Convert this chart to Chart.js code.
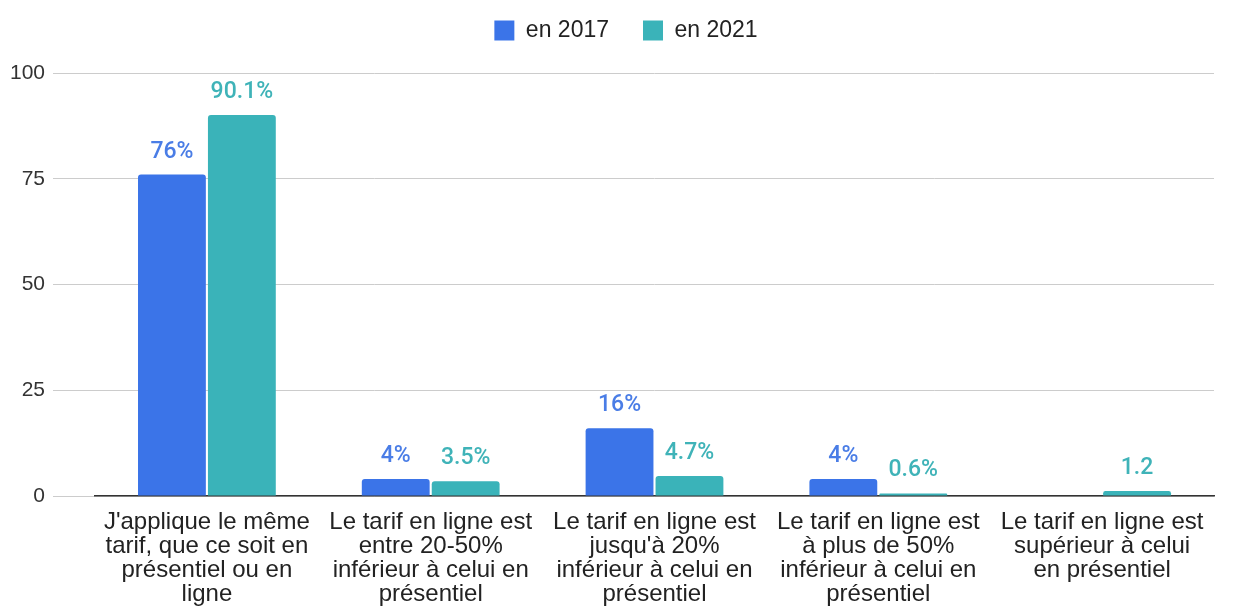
<!DOCTYPE html>
<html>
<head>
<meta charset="utf-8">
<script src="https://cdn.jsdelivr.net/npm/chart.js@4"></script>
<style>
  html, body { margin: 0; padding: 0; background: #fff; }
  #wrap { width: 1244px; height: 606px; }
</style>
</head>
<body>
<div id="wrap"><canvas id="chart" width="1244" height="606"></canvas></div>
<script>
// categories (split on lines as in the picture)
const categories = [
  ["J'applique le même", "tarif, que ce soit en", "présentiel ou en", "ligne"],
  ["Le tarif en ligne est", "entre 20-50%", "inférieur à celui en", "présentiel"],
  ["Le tarif en ligne est", "jusqu'à 20%", "inférieur à celui en", "présentiel"],
  ["Le tarif en ligne est", "à plus de 50%", "inférieur à celui en", "présentiel"],
  ["Le tarif en ligne est", "supérieur à celui", "en présentiel"]
];
const seriesNames = ['en 2017', 'en 2021'];
const values2017 = [76, 4, 16, 4, null];
const values2021 = [90.1, 3.5, 4.7, 0.6, 1.2];
const labels2017 = ['76%', '4%', '16%', '4%', ''];
const labels2021 = ['90.1%', '3.5%', '4.7%', '0.6%', '1.2'];
const yTicks = [0, 25, 50, 75, 100];

const BLUE = '#3b74e8';
const TEAL = '#3ab3b9';
const FONT = '"Liberation Sans", Arial, sans-serif';

// dessine les valeurs au-dessus des barres
const valueLabels = {
  id: 'valueLabels',
  afterDatasetsDraw(chart) {
    const ctx = chart.ctx;
    const texts = [labels2017, labels2021];
    const colors = ['#4a7de6', '#3fb3b8'];
    ctx.save();
    ctx.font = '500 23px Roboto, "Liberation Sans", sans-serif';
    ctx.textAlign = 'center';
    ctx.textBaseline = 'alphabetic';
    chart.data.datasets.forEach((ds, i) => {
      chart.getDatasetMeta(i).data.forEach((bar, j) => {
        const t = texts[i][j];
        if (!t) return;
        ctx.fillStyle = colors[i];
        ctx.fillText(t, bar.x, bar.y - 17);
      });
    });
    ctx.restore();
  }
};

// cale la hauteur et la position de la légende
const legendFix = {
  id: 'legendFix',
  beforeInit(chart) {
    const legend = chart.legend;
    const fit = legend.fit;
    legend.fit = function () {
      fit.call(this);
      this.height = 88;
    };
    const draw = legend.draw;
    legend.draw = function () {
      chart.ctx.save();
      chart.ctx.translate(19, 0);
      draw.call(this);
      chart.ctx.restore();
    };
  }
};

new Chart(document.getElementById('chart'), {
  type: 'bar',
  data: {
    labels: categories,
    datasets: [
      { label: seriesNames[0], data: values2017, backgroundColor: BLUE },
      { label: seriesNames[1], data: values2021, backgroundColor: TEAL }
    ]
  },
  options: {
    responsive: false,
    animation: false,
    layout: { padding: { top: -15, right: 30, left: 0, bottom: 0 } },
    datasets: {
      bar: {
        categoryPercentage: 0.625,
        barPercentage: 0.97,
        borderRadius: { topLeft: 3, topRight: 3 },
        borderSkipped: 'bottom'
      }
    },
    plugins: {
      legend: {
        position: 'top',
        labels: {
          boxWidth: 20,
          boxHeight: 20,
          padding: 34,
          color: '#222',
          font: { family: FONT, size: 23 }
        }
      },
      tooltip: { enabled: false }
    },
    scales: {
      x: {
        grid: { display: false, drawTicks: false },
        border: { color: '#333', width: 1.5 },
        afterFit: (scale) => { scale.height = 110; },
        ticks: {
          color: '#222',
          maxRotation: 0,
          autoSkip: false,
          padding: 14,
          font: { family: FONT, size: 24, lineHeight: 1.0 }
        }
      },
      y: {
        min: 0,
        max: 100,
        afterBuildTicks: (scale) => { scale.ticks = yTicks.map(v => ({ value: v })); },
        afterFit: (scale) => { scale.width = 95; },
        border: { display: false },
        grid: { color: '#cccccc', drawTicks: true, tickLength: 42 },
        ticks: {
          color: '#333',
          padding: 8,
          font: { family: FONT, size: 21 }
        }
      }
    }
  },
  plugins: [valueLabels, legendFix]
});
</script>
</body>
</html>
